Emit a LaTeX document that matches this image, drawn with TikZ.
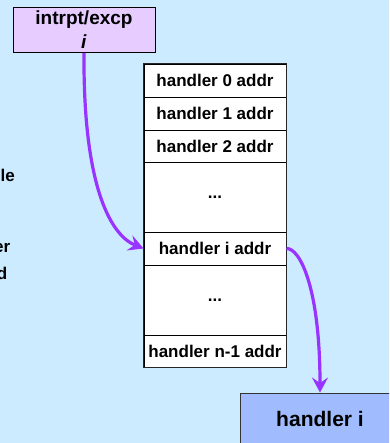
\documentclass[tikz,border=0pt]{standalone}
\usepackage{fontspec}
\setmainfont{Liberation Sans}
\usetikzlibrary{arrows.meta}
\definecolor{bgblue}{RGB}{204,235,255}
\definecolor{boxlilac}{RGB}{230,204,255}
\definecolor{boxblue}{RGB}{160,188,255}
\definecolor{linkpurple}{RGB}{153,51,255}
\begin{document}
\begin{tikzpicture}[x=1pt,y=-1pt,
  cell/.style={draw=black, line width=0.9pt, fill=white, minimum width=142pt,
    inner sep=0pt, font=\fontsize{17}{20}\selectfont\bfseries},
  link/.style={draw=linkpurple, line width=3.2pt,
    -{Stealth[length=15pt, width=16pt, inset=5.5pt]}},
  sidetext/.style={inner sep=0pt, font=\fontsize{17}{20}\selectfont\bfseries}]
  % page frame and background
  \useasboundingbox (0,0) rectangle (389,443);
  \clip (0,0) rectangle (389,443);
  \fill[bgblue] (0,0) rectangle (389,443);

  % vector number box
  \node[draw=black, line width=0.9pt, fill=boxlilac, minimum width=142pt,
    minimum height=45pt, inner sep=0pt, align=center,
    font=\fontsize{19}{21}\selectfont\bfseries] (vec) at (84,30)
    {intrpt/excp\\[3pt]\textit{i}};

  % jump table
  \node[cell, minimum height=33pt] (h0)  at (215,80.5)  {handler 0 addr};
  \node[cell, minimum height=33pt] (h1)  at (215,113.5) {handler 1 addr};
  \node[cell, minimum height=32pt] (h2)  at (215,146)   {handler 2 addr};
  \node[cell, minimum height=70pt] (d1)  at (215,197)   {...};
  \node[cell, minimum height=33pt] (hi)  at (215,248.5) {handler i addr};
  \node[cell, minimum height=70pt] (d2)  at (215,300)   {...};
  \node[cell, minimum height=32pt] (hn)  at (215,351)   {handler n-1 addr};
  \draw[line width=1.3pt, draw=black!85] (h0.north west) rectangle (hn.south east);

  % handler code box
  \node[draw=black!80, line width=0.9pt, fill=boxblue, minimum width=160pt,
    minimum height=52pt, inner sep=0pt,
    font=\fontsize{21}{24}\selectfont\bfseries] (hcode) at (320,419) {handler i};

  % side text running off the left edge
  \node[sidetext, anchor=base east] (s1) at (15,182)   {le};
  \node[sidetext, anchor=base east] (s2) at (10.5,252) {er};
  \node[sidetext, anchor=base east] (s3) at (7.5,279)  {d};

  % connectors
  \draw[link] (vec.south) .. controls (83,190) and (112,236) .. (hi.west);
  \draw[link] (hi.east) .. controls (300,248) and (320,288) .. (hcode.north);
\end{tikzpicture}
\end{document}
